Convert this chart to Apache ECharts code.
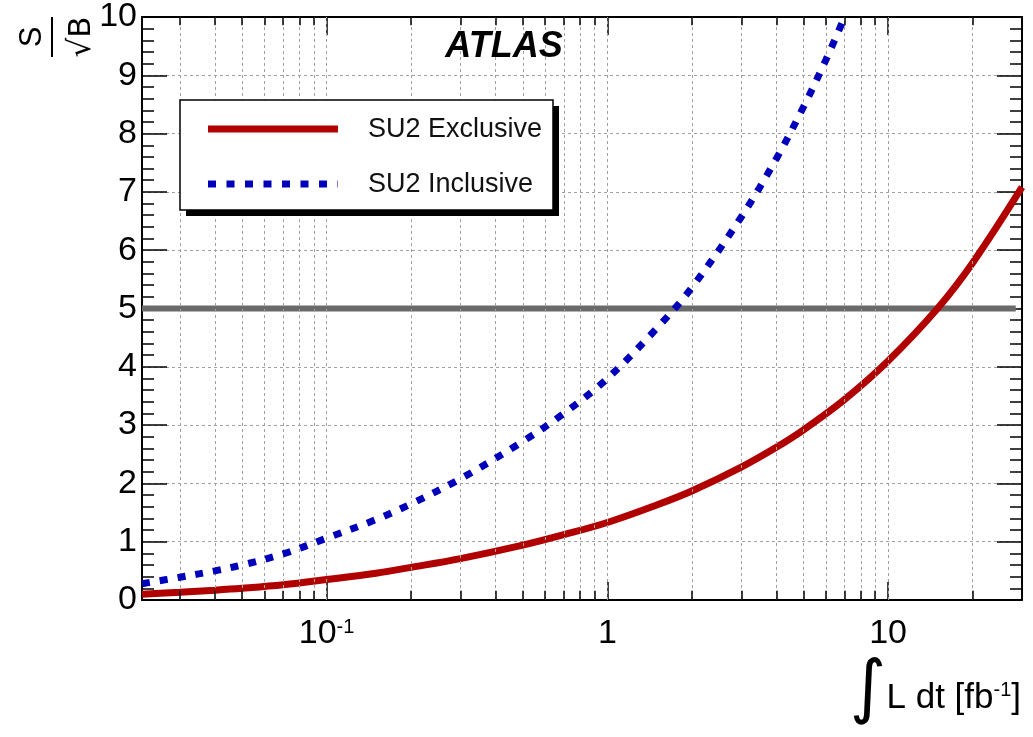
<!DOCTYPE html>
<html><head><meta charset="utf-8">
<script src="https://cdn.jsdelivr.net/npm/echarts@6/dist/echarts.min.js"></script>
<style>html,body{margin:0;padding:0;background:#fff}#c{width:1033px;height:737px}</style>
</head><body><div id="c"></div><script>
// ---- data ----
const lumiExcl = [0.022,0.03,0.04,0.05,0.07,0.1,0.15,0.2,0.3,0.5,0.7,1,1.5,2,3,4,5,7,10,15,20,30];
const exclusive = [0.10,0.133,0.168,0.2,0.26,0.35,0.46,0.56,0.71,0.94,1.12,1.33,1.63,1.87,2.28,2.62,2.92,3.44,4.1,5.0,5.78,7.08];
const lumiIncl = [0.022,0.03,0.04,0.05,0.07,0.1,0.15,0.2,0.3,0.5,0.7,1,1.5,2,3,4,5,6,7];
const inclusive = [0.28,0.39,0.50,0.60,0.79,1.06,1.38,1.65,2.08,2.72,3.2,3.8,4.66,5.36,6.57,7.57,8.46,9.26,10.0];
const discoveryX = [0.022, 28.5];
const discoveryY = [5, 5];
const xMin = 0.022, xMax = 30;
const yMin = 0, yMax = 10;
const xMajorTicks = [0.1, 1, 10];
const xMajorLabels = ['{b|10}{s|-1}', '{b|1}', '{b|10}'];
const xMinorTicks = [0.03,0.04,0.05,0.06,0.07,0.08,0.09,0.2,0.3,0.4,0.5,0.6,0.7,0.8,0.9,2,3,4,5,6,7,8,9,20];
const seriesNames = ['SU2 Exclusive', 'SU2 Inclusive'];

const FONT = 'Liberation Sans';
const pair = (xs, ys) => xs.map((x, i) => [x, ys[i]]);

const gridStyle = {type: [3, 3], color: '#a0a0a0', width: 1};
const tickStyle = {type: 'solid', color: '#000', width: 1.5};
const markData = [];
xMajorTicks.concat(xMinorTicks).forEach(v => markData.push({xAxis: v, lineStyle: gridStyle}));
xMinorTicks.forEach(v => {
  markData.push([{coord: [v, yMin], lineStyle: tickStyle}, {coord: [v, yMin + 0.16]}]);
  markData.push([{coord: [v, yMax], lineStyle: tickStyle}, {coord: [v, yMax - 0.14]}]);
});

const chart = echarts.init(document.getElementById('c'), null, {renderer: 'canvas'});
const xAxisBase = {
  type: 'log', logBase: 10, min: xMin, max: xMax,
  axisLine: {show: true, onZero: false, lineStyle: {color: '#000', width: 2}},
  axisTick: {show: true, inside: true, length: 18, lineStyle: {color: '#000', width: 1.5}},
  splitLine: {show: false}
};
const yAxisBase = {
  type: 'value', min: yMin, max: yMax, interval: 1,
  axisLine: {show: true, onZero: false, lineStyle: {color: '#000', width: 2}},
  axisTick: {show: true, inside: true, length: 25, lineStyle: {color: '#000', width: 1.5}},
  minorTick: {show: true, splitNumber: 5, length: 12, lineStyle: {color: '#000', width: 1.5}}
};
chart.setOption({
  animation: false,
  backgroundColor: '#fff',
  grid: {left: 142, right: 11, top: 16, bottom: 137, containLabel: false},
  xAxis: [
    Object.assign({}, xAxisBase, {
      position: 'bottom',
      axisLabel: {
        show: true, margin: 17, showMinLabel: false, showMaxLabel: false,
        formatter: v => {
          for (let i = 0; i < xMajorTicks.length; i++) {
            if (Math.abs(v - xMajorTicks[i]) < 1e-6 * xMajorTicks[i]) return xMajorLabels[i];
          }
          return '';
        },
        rich: {
          b: {fontSize: 34, fontFamily: FONT, color: '#000'},
          s: {fontSize: 20, fontFamily: FONT, color: '#000', verticalAlign: 'top'}
        }
      }
    }),
    Object.assign({}, xAxisBase, {position: 'top', axisLabel: {show: false}})
  ],
  yAxis: [
    Object.assign({}, yAxisBase, {
      position: 'left',
      splitLine: {show: true, lineStyle: {type: [3, 3], color: '#a0a0a0', width: 1}},
      axisLabel: {show: true, margin: 5, fontSize: 34, fontFamily: FONT, color: '#000'}
    }),
    Object.assign({}, yAxisBase, {position: 'right', splitLine: {show: false}, axisLabel: {show: false}})
  ],
  series: [
    {
      name: 'grid', type: 'line', z: 1, silent: true,
      data: pair(discoveryX, [yMin, yMin]), symbol: 'none', lineStyle: {opacity: 0},
      markLine: {silent: true, symbol: ['none', 'none'], label: {show: false}, animation: false, data: markData}
    },
    {
      name: '5sigma', type: 'line', z: 3, silent: true,
      data: pair(discoveryX, discoveryY), symbol: 'none',
      lineStyle: {color: '#6a6a6a', width: 6, cap: 'butt'}
    },
    {
      name: seriesNames[0], type: 'line', z: 4,
      data: pair(lumiExcl, exclusive), symbol: 'none', smooth: 0.35,
      lineStyle: {color: '#b00000', width: 7}
    },
    {
      name: seriesNames[1], type: 'line', z: 5,
      data: pair(lumiIncl, inclusive), symbol: 'none', smooth: 0.35,
      lineStyle: {color: '#0000bb', width: 7, type: [8, 10], cap: 'butt'}
    }
  ],
  graphic: [
    // legend shadow + box
    {type: 'rect', z: 100, shape: {x: 186, y: 106, width: 373, height: 110}, style: {fill: '#000'}},
    {type: 'rect', z: 101, shape: {x: 180, y: 100, width: 373, height: 110}, style: {fill: '#fff', stroke: '#000', lineWidth: 1.5}},
    {type: 'line', z: 102, shape: {x1: 208, y1: 129, x2: 338, y2: 129}, style: {stroke: '#b00000', lineWidth: 7}},
    {type: 'line', z: 102, shape: {x1: 208, y1: 184, x2: 338, y2: 184}, style: {stroke: '#0000bb', lineWidth: 7, lineDash: [8, 10.5]}},
    {type: 'text', z: 102, x: 368, y: 130, style: {text: seriesNames[0], font: '27px "Liberation Sans"', fill: '#111', verticalAlign: 'middle'}},
    {type: 'text', z: 102, x: 368, y: 185, style: {text: seriesNames[1], font: '27px "Liberation Sans"', fill: '#111', verticalAlign: 'middle'}},
    // ATLAS label
    {type: 'text', z: 102, x: 504, y: 47, style: {text: 'ATLAS', font: 'italic bold 36px "Liberation Sans"', fill: '#000', align: 'center', verticalAlign: 'middle'}},
    // y-axis title S / sqrt(B), rotated
    {type: 'text', z: 102, x: 32, y: 37, rotation: Math.PI / 2, style: {text: 'S', font: '31px "Liberation Sans"', fill: '#000', align: 'center', verticalAlign: 'middle'}},
    {type: 'line', z: 102, shape: {x1: 52, y1: 17, x2: 52, y2: 57}, style: {stroke: '#000', lineWidth: 2}},
    {type: 'text', z: 102, x: 82, y: 37, rotation: Math.PI / 2, style: {text: '√B', font: '31px "DejaVu Sans"', fill: '#000', align: 'center', verticalAlign: 'middle'}},
    // x-axis title
    {type: 'text', z: 102, x: 868, y: 692, style: {text: '∫', font: '70px "DejaVu Sans"', fill: '#000', align: 'center', verticalAlign: 'middle'}},
    {type: 'text', z: 102, x: 1021, y: 698, style: {
      text: '{l|L dt [fb}{s|-1}{l|]}', align: 'right', verticalAlign: 'middle',
      rich: {l: {fontSize: 35, fontFamily: FONT, fill: '#000'}, s: {fontSize: 20, fontFamily: FONT, fill: '#000', verticalAlign: 'top'}}
    }}
  ]
});
</script></body></html>
